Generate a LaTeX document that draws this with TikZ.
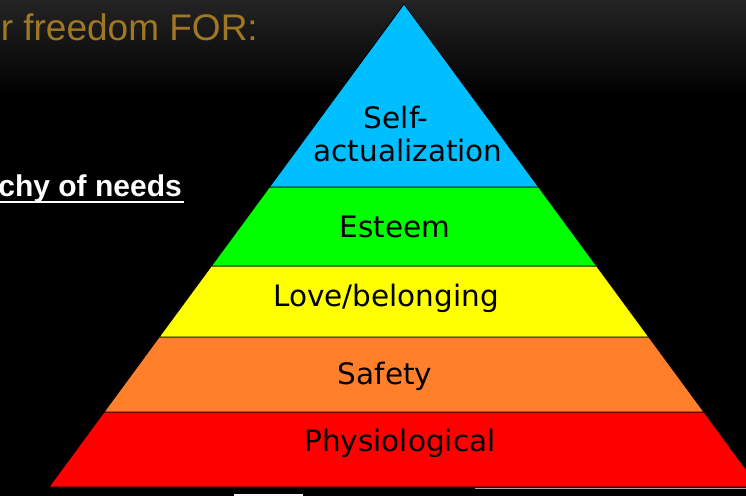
\documentclass[tikz,border=0pt]{standalone}
\usepackage{fontspec}
\setmainfont{DejaVu Sans}
\newfontfamily\arialfont{Liberation Sans}
\definecolor{skyb}{RGB}{0,191,255}
\definecolor{lgreen}{RGB}{0,255,0}
\definecolor{lyellow}{RGB}{255,255,0}
\definecolor{lorange}{RGB}{255,127,42}
\definecolor{lred}{RGB}{255,0,0}
\definecolor{gold}{RGB}{160,120,36}
\begin{document}
\begin{tikzpicture}[x=1pt,y=-1pt,
  layer/.style={draw=black,line width=0.8pt,line join=round},
  lbl/.style={text=black,font=\fontsize{29.5}{30}\selectfont,inner sep=0pt,align=center},
  head/.style={text=gold,font=\arialfont\fontsize{37}{40}\selectfont,inner sep=0pt,anchor=base east},
  sub/.style={text=white,font=\arialfont\bfseries\fontsize{30}{32}\selectfont,inner sep=0pt,anchor=base east}]
\useasboundingbox (0,0) rectangle (746,496);
\clip (0,0) rectangle (746,496);
\fill[black] (0,0) rectangle (746,496);
\shade[top color=black!86,bottom color=black] (0,0) rectangle (746,96);
% pyramid layers
\filldraw[layer,fill=lred] (104.1,412) -- (703.9,412) -- (759,487) -- (49,487) -- cycle;
\filldraw[layer,fill=lorange] (159.2,337) -- (648.8,337) -- (703.9,412) -- (104.1,412) -- cycle;
\filldraw[layer,fill=lyellow] (211.4,266) -- (596.6,266) -- (648.8,337) -- (159.2,337) -- cycle;
\filldraw[layer,fill=lgreen] (269.5,187) -- (538.5,187) -- (596.6,266) -- (211.4,266) -- cycle;
\filldraw[layer,fill=skyb] (404,4) -- (538.5,187) -- (269.5,187) -- cycle;
% labels
\node[lbl] (self) at (408,134) {\hspace*{-0.8em}Self-\\[3pt]actualization};
\node[lbl] (esteem) at (395,227) {Esteem};
\node[lbl] (love) at (386,298) {Love/belonging};
\node[lbl] (safety) at (385,376) {Safety};
\node[lbl] (phys) at (400,443) {Physiological};
% slide texts
\node[head] (title) at (258,40) {r freedom FOR:};
\node[sub] (hier) at (182,196) {chy of needs};
\draw[white,line width=2.5pt] (0,202) -- (184,202);
% slide artifacts
\draw[gray!70,line width=1pt] (475,488.5) -- (746,488.5);
\fill[white!94!brown] (234,494) rectangle (303,496);
\end{tikzpicture}
\end{document}
